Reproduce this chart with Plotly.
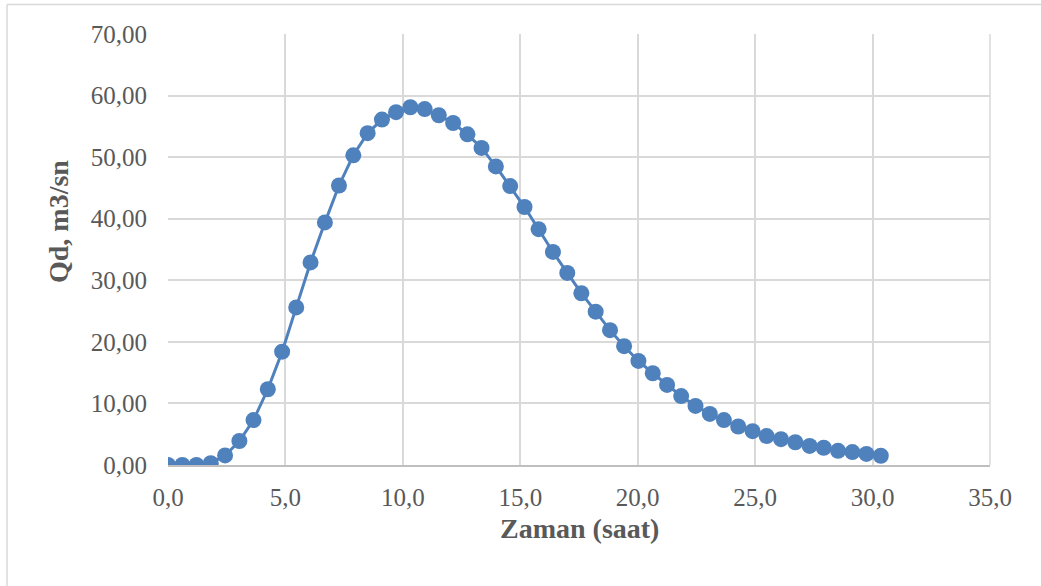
import plotly.graph_objects as go

time_h = [0.00, 0.61, 1.21, 1.82, 2.43, 3.04, 3.64, 4.25, 4.86, 5.46,
          6.07, 6.68, 7.28, 7.89, 8.50, 9.11, 9.71, 10.32, 10.93, 11.53,
          12.14, 12.75, 13.35, 13.96, 14.57, 15.18, 15.78, 16.39, 17.00, 17.60,
          18.21, 18.82, 19.42, 20.03, 20.64, 21.25, 21.85, 22.46, 23.07, 23.67,
          24.28, 24.89, 25.49, 26.10, 26.71, 27.32, 27.92, 28.53, 29.14, 29.74,
          30.35]
qd = [0.00, 0.00, 0.00, 0.30, 1.55, 3.90, 7.30, 12.30, 18.40, 25.60,
      32.90, 39.40, 45.40, 50.30, 53.90, 56.10, 57.30, 58.10, 57.80, 56.80,
      55.55, 53.70, 51.50, 48.50, 45.30, 41.90, 38.30, 34.60, 31.20, 27.90,
      24.90, 21.90, 19.30, 16.90, 14.90, 13.00, 11.20, 9.60, 8.30, 7.30,
      6.25, 5.50, 4.70, 4.20, 3.70, 3.10, 2.80, 2.30, 2.10, 1.80,
      1.50]

x_title = "Zaman (saat)"
y_title = "Qd, m3/sn"

W, H = 1041, 586
L, R, T, B = 168, 990, 34, 465
pw, ph = R - L, B - T

def px_x(p):
    return (p - L) / pw

def px_y(p):
    return (B - p) / ph

font_family = "Liberation Serif, Times New Roman, serif"
grey = "#595959"

fig = go.Figure()
fig.add_trace(go.Scatter(
    x=time_h, y=qd, mode="lines+markers",
    line=dict(color="#4f81bd", width=3),
    marker=dict(color="#4f81bd", size=16),
    showlegend=False,
))

fig.update_layout(
    width=W, height=H,
    margin=dict(l=L, r=W - R, t=T, b=H - B),
    paper_bgcolor="white", plot_bgcolor="white",
    separators=",.",
    font=dict(family=font_family, color=grey, size=25),
    xaxis=dict(
        range=[0, 35], tick0=0, dtick=5, tickformat=".1f",
        showgrid=True, gridcolor="#d9d9d9", gridwidth=1.5,
        showline=True, linecolor="#bfbfbf", linewidth=1.5,
        zeroline=False, ticks="", ticklabelstandoff=9,
        tickfont=dict(size=25, color=grey, family=font_family),
        mirror=False,
    ),
    yaxis=dict(
        range=[0, 70], tick0=0, dtick=10, tickformat=".2f",
        showgrid=True, gridcolor="#d9d9d9", gridwidth=1.5,
        showline=False, zeroline=False, ticks="", ticklabelstandoff=20,
        tickfont=dict(size=25, color=grey, family=font_family),
    ),
    annotations=[
        dict(text="<b>" + x_title + "</b>", xref="paper", yref="paper",
             x=px_x(579), y=px_y(528), showarrow=False,
             xanchor="center", yanchor="middle",
             font=dict(size=28, color=grey, family=font_family)),
        dict(text="<b>" + y_title + "</b>", xref="paper", yref="paper",
             x=px_x(58), y=px_y(222), showarrow=False, textangle=-90,
             xanchor="center", yanchor="middle",
             font=dict(size=28, color=grey, family=font_family)),
    ],
    shapes=[
        dict(type="line", xref="paper", yref="paper",
             x0=px_x(7), x1=px_x(W + 5), y0=px_y(4.5), y1=px_y(4.5),
             line=dict(color="#d9d9d9", width=1.5)),
        dict(type="line", xref="paper", yref="paper",
             x0=px_x(7), x1=px_x(7), y0=px_y(4.5), y1=px_y(H + 5),
             line=dict(color="#d9d9d9", width=1.5)),
        dict(type="line", xref="paper", yref="paper",
             x0=1, x1=1, y0=0, y1=1, layer="below",
             line=dict(color="#d9d9d9", width=1.5)),
    ],
)

fig.write_html("out.html")
